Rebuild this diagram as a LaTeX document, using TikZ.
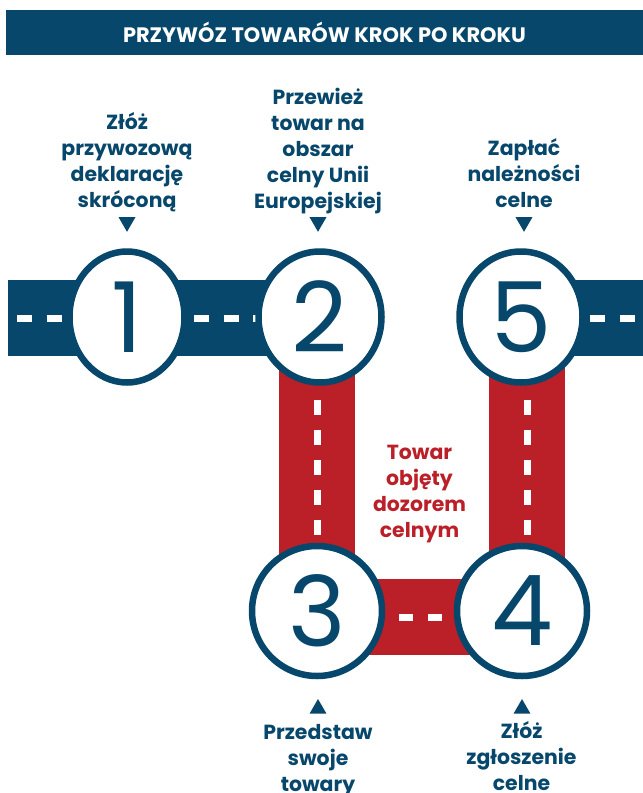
\documentclass[tikz,border=0pt]{standalone}
\usepackage{fontspec}
\setmainfont{Poppins}
\usetikzlibrary{shapes.geometric,backgrounds}
\definecolor{roadblue}{RGB}{7,71,107}
\definecolor{roadred}{RGB}{187,32,41}
\tikzset{
  stepring/.style={ellipse,draw=roadblue,line width=6.5bp,fill=white,inner sep=0pt,
    text=roadblue,font=\fontsize{98}{98}\selectfont},
  blueroad/.style={draw=roadblue,line width=76bp},
  redroad/.style={draw=roadred,line width=76bp,line join=miter},
  lane/.style={draw=white,line width=7bp},
  pointer/.style={regular polygon,regular polygon sides=3,fill=roadblue,inner sep=0pt,
    minimum size=19.6bp},
  steptext/.style={align=center,text=roadblue,inner sep=0pt,anchor=base,
    font=\fontsize{20.5}{26}\selectfont\bfseries},
}
\begin{document}
\begin{tikzpicture}[x=1bp,y=-1bp]
  \useasboundingbox (0,0) rectangle (643,793);
  % Node: title
  \node[fill=roadblue,minimum width=637bp,minimum height=45bp,text=white,
    font=\fontsize{21}{21}\selectfont\bfseries] (title) at (324.5,32.5) {PRZYWÓZ TOWARÓW KROK PO KROKU};
  % Node: c1
  \node[stepring,minimum width=115bp,minimum height=131bp] (c1) at (127,317) {1};
  % Node: c2
  \node[stepring,minimum width=123bp,minimum height=131bp] (c2) at (320,317) {2};
  % Node: c5
  \node[stepring,minimum width=123bp,minimum height=131bp] (c5) at (521,317) {5};
  % Node: c3
  \node[stepring,minimum width=130bp,minimum height=130bp] (c3) at (317,611) {3};
  % Node: c4
  \node[stepring,minimum width=130bp,minimum height=130bp] (c4) at (522,611) {4};
  \coordinate (roadW) at (8,318);
  \coordinate (roadE) at (643,318);
  \coordinate (bend) at ([xshift=5bp,yshift=-6bp]c4.center);
\begin{pgfonlayer}{background}
  % Edge: roadW -> c1 -> c2
  \draw[blueroad] (roadW) -- (c2 |- roadW);
  \draw[lane,dash pattern=on 15bp off 14.5bp,dash phase=20.5bp] (roadW) -- (c2 |- roadW);
  % Edge: c5 -> roadE
  \draw[blueroad] (c5 |- roadE) -- (roadE);
  \draw[lane,dash pattern=on 15bp off 14.5bp,dash phase=19.5bp] (c5 |- roadE) -- (roadE);
  % Edge: c2 -> c3 -> c4 -> c5
  \draw[redroad] (c3 |- c2) -- (c3 |- bend) -- (bend) -- (bend |- c5);
  \draw[lane,dash pattern=on 15bp off 15bp,dash phase=7bp] (c3 |- c2) -- (c3 |- bend);
  \draw[lane,dash pattern=on 14bp off 15bp,dash phase=5bp] (c3 |- bend) -- (bend);
  \draw[lane,dash pattern=on 15bp off 15bp,dash phase=7bp] (bend |- c5) -- (bend);
\end{pgfonlayer}
  % Node: pointers
  \node[pointer,regular polygon rotate=180] (p1) at (127,222) {};
  \node[pointer,regular polygon rotate=180] (p2) at (318,222) {};
  \node[pointer,regular polygon rotate=180] (p5) at (524,222) {};
  \node[pointer] (p3) at (318,708.8) {};
  \node[pointer] (p4) at (522,708.8) {};
  % Node: labels
  \node[steptext] (t1) at (127,207) {Złóż\\przywozową\\deklarację\\skróconą};
  \node[steptext] (t2) at (318,208) {Przewież\\towar na\\obszar\\celny Unii\\Europejskiej};
  \node[steptext] (t5) at (524,207) {Zapłać\\należności\\celne};
  \node[steptext] (t3) at (318,791) {Przedstaw\\swoje\\towary};
  \node[steptext] (t4) at (521.5,790) {Złóż\\zgłoszenie\\celne};
  \node[steptext,text=roadred] (watch) at (419.5,537) {Towar\\objęty\\dozorem\\celnym};
\end{tikzpicture}
\end{document}
